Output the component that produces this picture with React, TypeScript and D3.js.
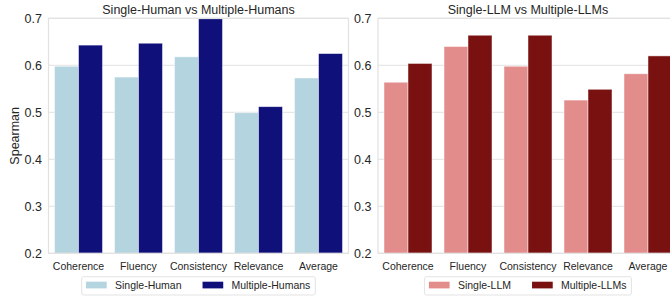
import { useRef, useEffect } from "react";
import * as d3 from "d3";

const categories = ["Coherence", "Fluency", "Consistency", "Relevance", "Average"];
const singleHuman = [0.598, 0.575, 0.618, 0.499, 0.573];
const multipleHumans = [0.643, 0.647, 0.699, 0.512, 0.625];
const singleLLM = [0.564, 0.64, 0.598, 0.526, 0.582];
const multipleLLMs = [0.604, 0.664, 0.664, 0.549, 0.62];
const yTicks = [0.2, 0.3, 0.4, 0.5, 0.6, 0.7];

const FONT = "'Liberation Sans', Arial, sans-serif";
const TEXT = "#262626";
const GRID = "#e2e2e2";

export default function App() {
  const chartRef = useRef<SVGSVGElement>(null);

  useEffect(() => {
    if (!chartRef.current) return;
    const svg = d3.select(chartRef.current);
    svg.selectAll("*").remove();

    const top = 18.3;
    const bottom = 253.3;
    const panelWidth = 300;

    const panels = [
      {
        x0: 48.5,
        title: "Single-Human vs Multiple-Humans",
        names: ["Single-Human", "Multiple-Humans"],
        series: [singleHuman, multipleHumans],
        colors: ["#b4d4df", "#10107a"],
        ylabel: true,
      },
      {
        x0: 378,
        title: "Single-LLM vs Multiple-LLMs",
        names: ["Single-LLM", "Multiple-LLMs"],
        series: [singleLLM, multipleLLMs],
        colors: ["#e28c8c", "#7a1111"],
        ylabel: false,
      },
    ];

    panels.forEach((p) => {
      const x = d3
        .scaleBand()
        .domain(categories)
        .range([p.x0, p.x0 + panelWidth])
        .paddingInner(0.2)
        .paddingOuter(0.1);
      const xInner = d3
        .scaleBand()
        .domain(["0", "1"])
        .range([0, x.bandwidth()]);
      const y = d3.scaleLinear().domain([0.2, 0.7]).range([bottom, top]);

      const g = svg.append("g");

      // gridlines
      g.selectAll("line.grid")
        .data(yTicks)
        .enter()
        .append("line")
        .attr("x1", p.x0)
        .attr("x2", p.x0 + panelWidth)
        .attr("y1", (d) => y(d))
        .attr("y2", (d) => y(d))
        .attr("stroke", GRID)
        .attr("stroke-width", 1);

      // bars
      p.series.forEach((vals, si) => {
        g.selectAll(`rect.s${si}`)
          .data(vals)
          .enter()
          .append("rect")
          .attr("x", (_d, i) => (x(categories[i]) ?? 0) + (xInner(String(si)) ?? 0))
          .attr("y", (d) => y(d))
          .attr("width", xInner.bandwidth())
          .attr("height", (d) => y(0.2) - y(d))
          .attr("fill", p.colors[si])
          .attr("stroke", "#ffffff")
          .attr("stroke-opacity", 0.6)
          .attr("stroke-width", 0.8);
      });

      // spines
      g.append("rect")
        .attr("x", p.x0)
        .attr("y", top)
        .attr("width", panelWidth)
        .attr("height", bottom - top)
        .attr("fill", "none")
        .attr("stroke", GRID)
        .attr("stroke-width", 1.2);

      // y tick labels
      g.selectAll("text.ytick")
        .data(yTicks)
        .enter()
        .append("text")
        .attr("x", p.x0 - 6.5)
        .attr("y", (d) => y(d))
        .attr("dy", "0.35em")
        .attr("text-anchor", "end")
        .attr("font-size", "12.5px")
        .attr("font-family", FONT)
        .attr("fill", TEXT)
        .text((d) => d3.format(".1f")(d));

      // x tick labels
      g.selectAll("text.xtick")
        .data(categories)
        .enter()
        .append("text")
        .attr("x", (d) => (x(d) ?? 0) + x.bandwidth() / 2)
        .attr("y", bottom + 9)
        .attr("dy", "0.71em")
        .attr("text-anchor", "middle")
        .attr("font-size", "10.5px")
        .attr("font-family", FONT)
        .attr("fill", TEXT)
        .text((d) => d);

      // title
      g.append("text")
        .attr("x", p.x0 + panelWidth / 2)
        .attr("y", top - 4)
        .attr("text-anchor", "middle")
        .attr("font-size", "12.5px")
        .attr("font-family", FONT)
        .attr("fill", TEXT)
        .text(p.title);

      if (p.ylabel) {
        g.append("text")
          .attr("transform", `translate(19,${(top + bottom) / 2}) rotate(-90)`)
          .attr("text-anchor", "middle")
          .attr("font-size", "12.5px")
          .attr("font-family", FONT)
          .attr("fill", TEXT)
          .text("Spearman");
      }

      // legend
      const legend = g.append("g");
      const box = legend
        .append("rect")
        .attr("y", 276.7)
        .attr("height", 18.3)
        .attr("rx", 2)
        .attr("fill", "#ffffff")
        .attr("stroke", "#dcdcdc")
        .attr("stroke-width", 0.8);
      let cursor = 4.3;
      const items = legend.append("g");
      p.names.forEach((name, i) => {
        items
          .append("rect")
          .attr("x", cursor)
          .attr("y", 281.7)
          .attr("width", 20.7)
          .attr("height", 6.7)
          .attr("fill", p.colors[i]);
        cursor += 20.7 + 8.3;
        const t = items
          .append("text")
          .attr("x", cursor)
          .attr("y", 285.3)
          .attr("dy", "0.35em")
          .attr("font-size", "10.5px")
          .attr("font-family", FONT)
          .attr("fill", TEXT)
          .text(name);
        const len = (t.node() as SVGTextElement).getComputedTextLength();
        cursor += len + (i === 0 ? 21 : 5);
      });
      const left = p.x0 + panelWidth / 2 - cursor / 2;
      box.attr("x", left).attr("width", cursor);
      items.attr("transform", `translate(${left},0)`);
    });
  }, []);

  return (
    <div style={{ position: "absolute", left: 0, top: 0 }}>
      <svg ref={chartRef} width={670} height={300} style={{ display: "block", background: "#fff" }} />
    </div>
  );
}
